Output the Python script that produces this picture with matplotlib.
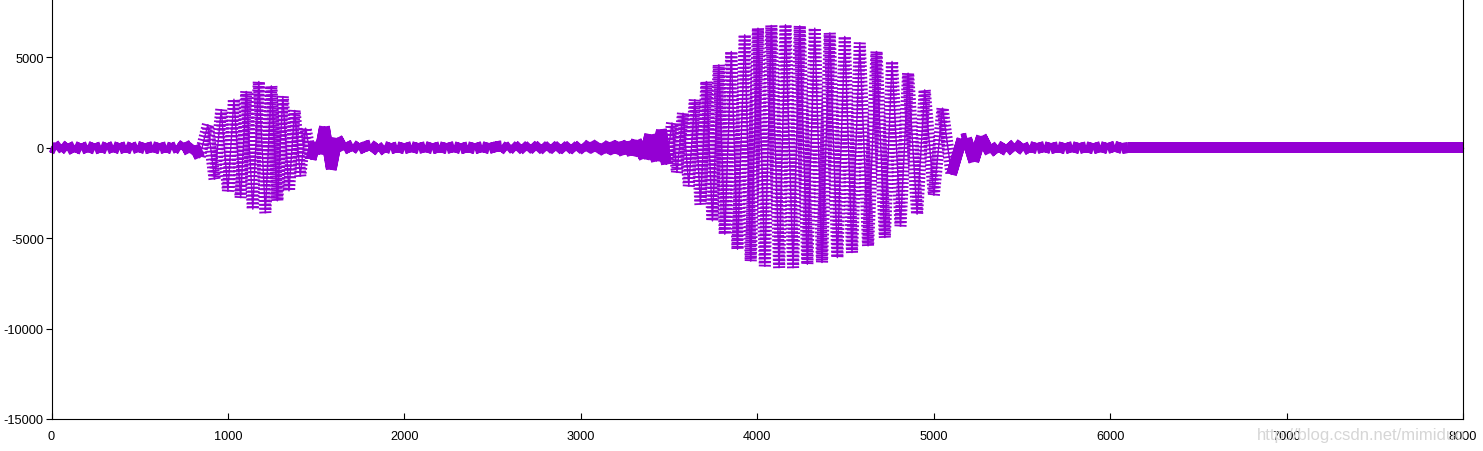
import matplotlib
matplotlib.use("Agg")
import matplotlib.pyplot as plt
import matplotlib.patheffects as pe

# Turning points of the waveform (sample index, amplitude)
quiet_a_idx = [0, 25, 55, 90, 130, 168, 206, 245, 282, 315, 348, 385, 423, 455,
               489, 530, 574, 612, 650, 680, 707, 730, 754, 782, 811, 839]
quiet_a_val = [30, -80, 150, -120, 80, -90, 70, -80, 60, -70, 70, -60, 60, -70,
               70, -60, 60, -60, 50, -60, 60, -80, 250, -265, 100, -540]

burst_a_idx = [839, 886, 924, 962, 1000, 1034, 1072, 1104, 1141, 1175, 1212, 1246,
               1280, 1311, 1346, 1378, 1410, 1440, 1472]
burst_a_val = [-540, 1260, -1740, 2090, -2390, 2680, -2760, 3110, -3400, 3660, -3590,
               3420, -2940, 2830, -2390, 2060, -1560, 1080, -640]

quiet_b_idx = [1472, 1495, 1518, 1547, 1586, 1620, 1655, 1708, 1742, 1775, 1809, 1854,
               1888, 1925, 1960, 2000, 2040, 2080, 2120, 2160, 2200, 2240, 2280, 2320,
               2360, 2400, 2440, 2480, 2520, 2551, 2579, 2607, 2635, 2663, 2691, 2719,
               2747, 2775, 2803, 2831, 2859, 2887, 2915, 2943, 2971, 2999, 3027, 3055,
               3083, 3111, 3139, 3167, 3195, 3223, 3247, 3270, 3292, 3315, 3360, 3390,
               3428, 3457, 3485]
quiet_b_val = [-640, 300, -350, 1150, -1190, 520, -100, 155, -90, 60, 155, -180,
               70, -60, 50, -60, 60, -50, 60, -60, 50, -50, 60, -60,
               50, -60, 60, -50, 60, 100, -110, 120, -130, 155, -140, 155,
               -140, 155, -140, 155, -150, 155, -150, 155, -150, 160, -170, 280,
               -200, 200, -280, 280, -300, 300, -360, 330, -420, 400, -600, 710,
               -730, 985, -910]

burst_b_idx = [3485, 3517, 3545, 3579, 3612, 3646, 3678,
               3712, 3746, 3782, 3816, 3853, 3888, 3929, 3963, 4004, 4043, 4080, 4124,
               4160, 4203, 4241, 4284, 4326, 4367, 4411, 4454, 4496, 4537, 4581, 4628,
               4676, 4723, 4764, 4812, 4855, 4906, 4949, 5001, 5050, 5101]
burst_b_val = [-910, 1356, -1370, 1910, -2110, 2650, -3130,
               3660, -4050, 4580, -4790, 5320, -5620, 6245, -6270, 6610, -6540, 6760, -6630,
               6800, -6630, 6740, -6450, 6610, -6350, 6340, -6080, 6150, -5800, 5780, -5430,
               5320, -4970, 4770, -4330, 4120, -3680, 3200, -2620, 2190, -1470]

quiet_c_idx = [5101, 5160, 5186, 5227, 5271, 5318, 5365, 5414, 5460, 5507, 5545, 5585,
               5625, 5665, 5705, 5745, 5785, 5825, 5865, 5905, 5945, 5985, 6025, 6065, 6100]
quiet_c_val = [-1470, 470, 525, -760, 620, -265, 100, -180, 210, -140, 65, -50,
               60, -50, 50, -60, 60, -50, 50, -60, 60, -50, 80, -40, 0]

tail_idx = [6100, 8000]
tail_val = [0, 0]

x_ticks = [0, 1000, 2000, 3000, 4000, 5000, 6000, 7000, 8000]
y_ticks = [-15000, -10000, -5000, 0, 5000]

COLOR = "#9400D3"
W, H = 1483, 452
plt.rcParams["font.family"] = ["Liberation Sans", "DejaVu Sans"]
plt.rcParams["axes.unicode_minus"] = False

fig = plt.figure(figsize=(W / 100, H / 100), dpi=100)
left_px, right_px, bottom_px = 51.5, 1463.0, 420.0
height_px = 452.2
ax = fig.add_axes([left_px / W, (H - bottom_px) / H,
                   (right_px - left_px) / W, height_px / H])


def effects(spacing, half, lw):
    return [pe.TickedStroke(spacing=spacing, angle=90, length=half / spacing, linewidth=lw),
            pe.TickedStroke(spacing=spacing, angle=-90, length=half / spacing, linewidth=lw),
            pe.Normal()]


dense = effects(0.6, 3.3, 1.1)
sparse = effects(2.8, 3.7, 1.3)

for xs, ys, fx in [(quiet_a_idx, quiet_a_val, dense),
                   (burst_a_idx, burst_a_val, sparse),
                   (quiet_b_idx, quiet_b_val, dense),
                   (burst_b_idx, burst_b_val, sparse),
                   (quiet_c_idx, quiet_c_val, dense),
                   (tail_idx, tail_val, dense)]:
    ln, = ax.plot(xs, ys, color=COLOR, lw=1.0, clip_on=False)
    ln.set_path_effects(fx)

ax.set_xlim(0, 8000)
ax.set_ylim(-15000, 10000)
ax.set_xticks(x_ticks)
ax.set_yticks(y_ticks)
ax.tick_params(axis="x", direction="in", length=4, width=0.8, pad=8, labelsize=9.2)
ax.tick_params(axis="y", direction="out", length=4, width=0.8, pad=1.5, labelsize=9.2)
for s in ax.spines.values():
    s.set_linewidth(0.8)
    s.set_color("black")

fig.text(1257 / W, (H - 436) / H, "http://blog.csdn.net/mimiduo", color="#d6d6d6",
         fontsize=12, va="center", ha="left", zorder=0)

fig.savefig("out.png", dpi=100)
